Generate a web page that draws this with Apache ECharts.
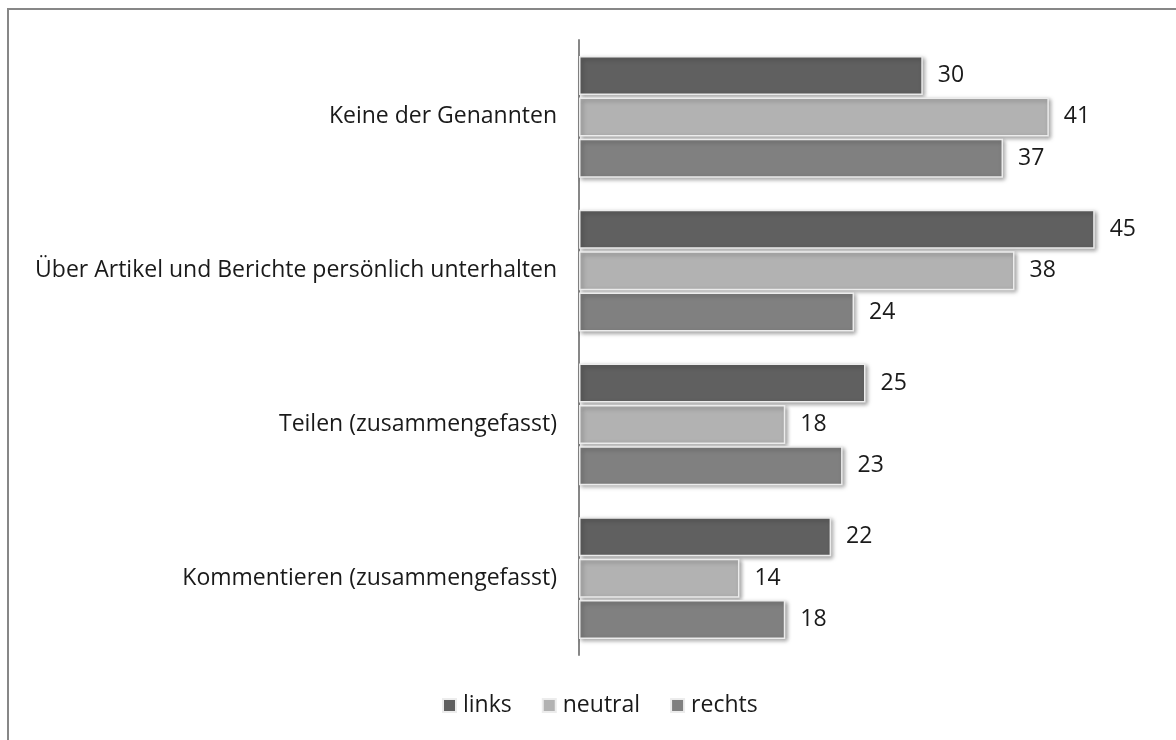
<!DOCTYPE html>
<html>
<head>
<meta charset="utf-8">
<script src="https://cdn.jsdelivr.net/npm/echarts@6/dist/echarts.min.js"></script>
<style>
  html, body { margin: 0; padding: 0; background: #fff; }
  #chart { width: 1176px; height: 740px; }
</style>
</head>
<body>
<div id="chart"></div>
<script>
// Activities, top to bottom
const categories = [
  'Keine der Genannten',
  'Über Artikel und Berichte persönlich unterhalten',
  'Teilen (zusammengefasst)',
  'Kommentieren (zusammengefasst)'
];
const seriesNames = ['links', 'neutral', 'rechts'];
const links = [30, 45, 25, 22];
const neutral = [41, 38, 18, 14];
const rechts = [37, 24, 23, 18];

const values = [links, neutral, rechts];
const colors = ['#606060', '#b2b2b2', '#808080'];
const font = '"Open Sans", "Noto Sans", sans-serif';

const chart = echarts.init(document.getElementById('chart'));
chart.setOption({
  animation: false,
  textStyle: { fontFamily: font },
  graphic: [{
    type: 'rect',
    shape: { x: 8, y: 9, width: 1300, height: 900 },
    style: { fill: 'none', stroke: '#878787', lineWidth: 2 },
    silent: true,
    z: -1
  }],
  grid: { left: 579, right: 24, top: 40, bottom: 85, containLabel: false },
  legend: {
    bottom: 18,
    left: 437,
    itemWidth: 13,
    itemHeight: 13,
    itemGap: 30,
    icon: 'rect',
    textStyle: { fontSize: 23, color: '#1a1a1a', fontFamily: font, padding: [0, 0, 0, 2] },
    data: seriesNames
  },
  xAxis: {
    type: 'value',
    min: 0,
    max: 50,
    show: false
  },
  yAxis: {
    type: 'category',
    inverse: true,
    data: categories,
    axisLine: { show: true, lineStyle: { color: '#878787', width: 2 } },
    axisTick: { show: false },
    axisLabel: { fontSize: 23, color: '#1a1a1a', margin: 22, fontFamily: font }
  },
  series: seriesNames.map((name, i) => ({
    name,
    type: 'bar',
    data: values[i],
    barWidth: 39,
    barGap: '6%',
    barCategoryGap: '20%',
    itemStyle: {
      color: colors[i],
      borderColor: '#ececec',
      borderWidth: 1.5,
      shadowColor: 'rgba(0,0,0,0.35)',
      shadowBlur: 4,
      shadowOffsetX: 2,
      shadowOffsetY: 2
    },
    label: {
      show: true,
      position: 'right',
      distance: 15,
      fontSize: 23,
      color: '#1a1a1a',
      fontFamily: font
    }
  }))
});
</script>
</body>
</html>
